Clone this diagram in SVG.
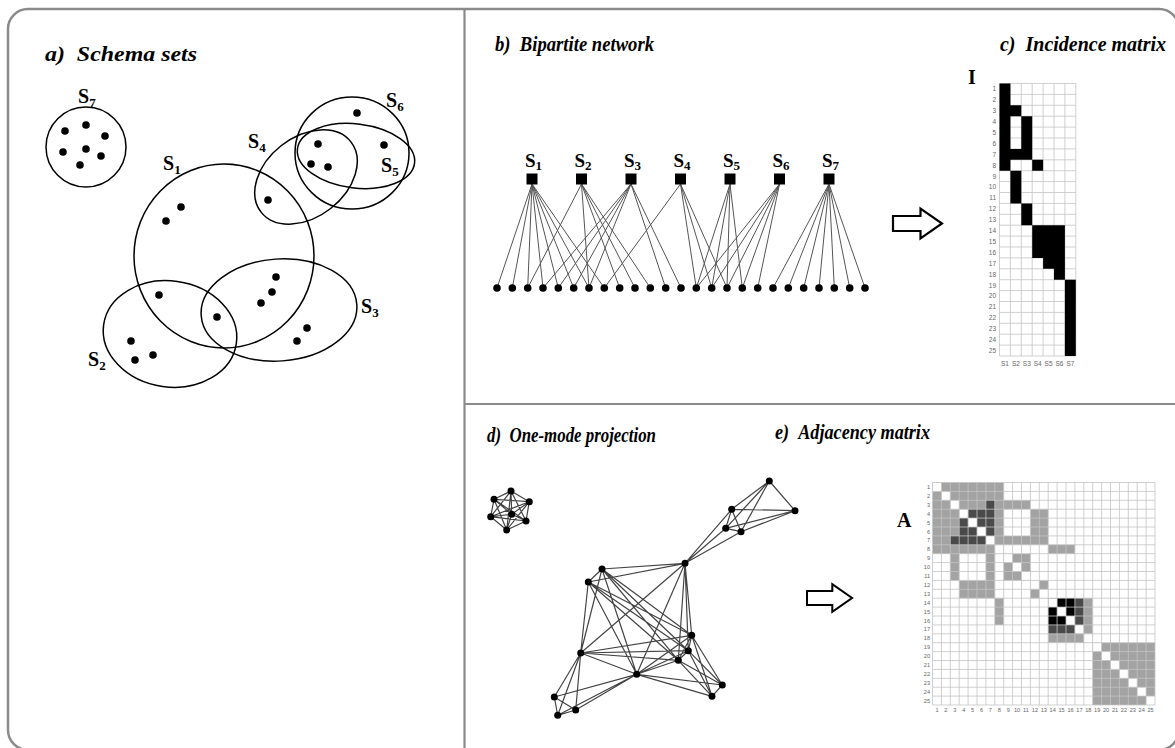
<svg xmlns="http://www.w3.org/2000/svg" width="1175" height="748" viewBox="0 0 1175 748">
<style>
.frame{fill:none;stroke:#8a8a8a;stroke-width:2.5}
.div{stroke:#8a8a8a;stroke-width:2.2}
.title{font-family:"Liberation Serif",serif;font-weight:bold;font-style:italic;font-size:21px;fill:#000}
.lab{font-family:"Liberation Serif",serif;font-weight:bold;font-size:20px;fill:#000}
.blab{font-family:"Liberation Serif",serif;font-weight:bold;font-size:19px;fill:#000}
.sub{font-size:13px}
.set{fill:none;stroke:#000;stroke-width:1.5}
.dot{fill:#000}
.bedge{fill:none;stroke:#555;stroke-width:1}
.pedge{fill:none;stroke:#444;stroke-width:1.2}
.grid{fill:none;stroke:#c4c4c4;stroke-width:0.8}
.ml{font-family:"Liberation Sans",Arial,sans-serif;font-size:6.5px;fill:#666}
.ml2{font-family:"Liberation Sans",Arial,sans-serif;font-size:5.6px;fill:#666}
.arrow{fill:#fff;stroke:#000;stroke-width:2.2;stroke-linejoin:miter}
</style>
<defs>
<path id="blockArrow" d="M0 -7.5H27.5V-15L49 0L27.5 15V7.5H0Z"/>
</defs>

<!-- panel frame and dividers -->
<g id="frame">
<rect class="frame" x="8" y="9" width="1171" height="741" rx="20" ry="20"/>
<line class="div" x1="464.5" y1="9" x2="464.5" y2="748"/>
<line class="div" x1="464.5" y1="404" x2="1178" y2="404"/>
</g>

<!-- titles -->
<g id="titles">
<text class="title" x="45" y="61" textLength="152" lengthAdjust="spacingAndGlyphs">a)&#160;&#160;Schema sets</text>
<text class="title" x="495" y="51" textLength="159" lengthAdjust="spacingAndGlyphs">b)&#160;&#160;Bipartite network</text>
<text class="title" x="1000" y="51" textLength="166" lengthAdjust="spacingAndGlyphs">c)&#160;&#160;Incidence matrix</text>
<text class="title" x="487" y="442" textLength="169" lengthAdjust="spacingAndGlyphs">d)&#160;&#160;One-mode projection</text>
<text class="title" x="775" y="439" textLength="155" lengthAdjust="spacingAndGlyphs">e)&#160;&#160;Adjacency matrix</text>
</g>

<!-- a) schema sets -->
<g id="set-S7">
<circle class="set" cx="86" cy="147" r="40"/>
<text class="lab" x="78" y="103">S<tspan class="sub" dy="4">7</tspan></text>
</g>
<g id="set-S1">
<ellipse class="set" cx="224" cy="256" rx="90" ry="92"/>
<text class="lab" x="163" y="170">S<tspan class="sub" dy="4">1</tspan></text>
</g>
<g id="set-S2">
<ellipse class="set" cx="170" cy="334" rx="67" ry="53" transform="rotate(8 170 334)"/>
<text class="lab" x="88" y="366">S<tspan class="sub" dy="4">2</tspan></text>
</g>
<g id="set-S3">
<ellipse class="set" cx="279" cy="310" rx="78" ry="51" transform="rotate(-4 279 310)"/>
<text class="lab" x="361" y="313">S<tspan class="sub" dy="4">3</tspan></text>
</g>
<g id="set-S4">
<ellipse class="set" cx="306" cy="177" rx="57" ry="40" transform="rotate(-38 306 177)"/>
<text class="lab" x="248" y="148">S<tspan class="sub" dy="4">4</tspan></text>
</g>
<g id="set-S5">
<ellipse class="set" cx="356" cy="156" rx="59" ry="32" transform="rotate(7 356 156)"/>
<text class="lab" x="381" y="172">S<tspan class="sub" dy="4">5</tspan></text>
</g>
<g id="set-S6">
<ellipse class="set" cx="352" cy="153" rx="57" ry="56"/>
<text class="lab" x="386" y="107">S<tspan class="sub" dy="4">6</tspan></text>
</g>
<g id="elements">
<circle class="dot" cx="65" cy="131" r="3.8"/>
<circle class="dot" cx="86" cy="125" r="3.8"/>
<circle class="dot" cx="105" cy="136" r="3.8"/>
<circle class="dot" cx="63" cy="152" r="3.8"/>
<circle class="dot" cx="86" cy="149" r="3.8"/>
<circle class="dot" cx="101" cy="156" r="3.8"/>
<circle class="dot" cx="80" cy="165" r="3.8"/>
<circle class="dot" cx="181" cy="207" r="3.8"/>
<circle class="dot" cx="166" cy="221" r="3.8"/>
<circle class="dot" cx="159" cy="295" r="3.8"/>
<circle class="dot" cx="217" cy="317" r="3.8"/>
<circle class="dot" cx="276" cy="277" r="3.8"/>
<circle class="dot" cx="272" cy="292" r="3.8"/>
<circle class="dot" cx="261" cy="303" r="3.8"/>
<circle class="dot" cx="307" cy="328" r="3.8"/>
<circle class="dot" cx="297" cy="341" r="3.8"/>
<circle class="dot" cx="131" cy="341" r="3.8"/>
<circle class="dot" cx="135" cy="360" r="3.8"/>
<circle class="dot" cx="153" cy="355" r="3.8"/>
<circle class="dot" cx="268" cy="200" r="3.8"/>
<circle class="dot" cx="357" cy="113" r="3.8"/>
<circle class="dot" cx="318" cy="144" r="3.8"/>
<circle class="dot" cx="384" cy="145" r="3.8"/>
<circle class="dot" cx="311" cy="164" r="3.8"/>
<circle class="dot" cx="328" cy="167" r="3.8"/>
</g>

<!-- b) bipartite network -->
<g id="bipartite-edges">
<path class="bedge" d="M532 184L497 288M532 184L512.3 288M532 184L527.7 288M532 184L543 288M532 184L558.3 288M532 184L573.7 288M532 184L589 288M532 184L604.3 288
M581.5 184L527.7 288M581.5 184L589 288M581.5 184L619.7 288M581.5 184L635 288M581.5 184L650.3 288
M631 184L543 288M631 184L558.3 288M631 184L573.7 288M631 184L589 288M631 184L665.7 288M631 184L681 288
M680.5 184L604.3 288M680.5 184L696.3 288M680.5 184L711.7 288M680.5 184L727 288
M730 184L696.3 288M730 184L711.7 288M730 184L727 288M730 184L742.3 288
M779.5 184L696.3 288M779.5 184L711.7 288M779.5 184L727 288M779.5 184L742.3 288M779.5 184L757.7 288
M829 184L773 288M829 184L788.3 288M829 184L803.7 288M829 184L819 288M829 184L834.3 288M829 184L849.7 288M829 184L865 288"/>
</g>
<g id="bipartite-sets">
<rect x="526.5" y="173.5" width="11" height="11"/>
<rect x="576" y="173.5" width="11" height="11"/>
<rect x="625.5" y="173.5" width="11" height="11"/>
<rect x="675" y="173.5" width="11" height="11"/>
<rect x="724.5" y="173.5" width="11" height="11"/>
<rect x="774" y="173.5" width="11" height="11"/>
<rect x="823.5" y="173.5" width="11" height="11"/>
<text class="blab" x="525" y="167">S<tspan class="sub" dy="3">1</tspan></text>
<text class="blab" x="574.5" y="167">S<tspan class="sub" dy="3">2</tspan></text>
<text class="blab" x="624" y="167">S<tspan class="sub" dy="3">3</tspan></text>
<text class="blab" x="673.5" y="167">S<tspan class="sub" dy="3">4</tspan></text>
<text class="blab" x="723" y="167">S<tspan class="sub" dy="3">5</tspan></text>
<text class="blab" x="772.5" y="167">S<tspan class="sub" dy="3">6</tspan></text>
<text class="blab" x="822" y="167">S<tspan class="sub" dy="3">7</tspan></text>
</g>
<g id="bipartite-elements">
<circle class="dot" cx="497" cy="288" r="3.8"/>
<circle class="dot" cx="512.3" cy="288" r="3.8"/>
<circle class="dot" cx="527.7" cy="288" r="3.8"/>
<circle class="dot" cx="543" cy="288" r="3.8"/>
<circle class="dot" cx="558.3" cy="288" r="3.8"/>
<circle class="dot" cx="573.7" cy="288" r="3.8"/>
<circle class="dot" cx="589" cy="288" r="3.8"/>
<circle class="dot" cx="604.3" cy="288" r="3.8"/>
<circle class="dot" cx="619.7" cy="288" r="3.8"/>
<circle class="dot" cx="635" cy="288" r="3.8"/>
<circle class="dot" cx="650.3" cy="288" r="3.8"/>
<circle class="dot" cx="665.7" cy="288" r="3.8"/>
<circle class="dot" cx="681" cy="288" r="3.8"/>
<circle class="dot" cx="696.3" cy="288" r="3.8"/>
<circle class="dot" cx="711.7" cy="288" r="3.8"/>
<circle class="dot" cx="727" cy="288" r="3.8"/>
<circle class="dot" cx="742.3" cy="288" r="3.8"/>
<circle class="dot" cx="757.7" cy="288" r="3.8"/>
<circle class="dot" cx="773" cy="288" r="3.8"/>
<circle class="dot" cx="788.3" cy="288" r="3.8"/>
<circle class="dot" cx="803.7" cy="288" r="3.8"/>
<circle class="dot" cx="819" cy="288" r="3.8"/>
<circle class="dot" cx="834.3" cy="288" r="3.8"/>
<circle class="dot" cx="849.7" cy="288" r="3.8"/>
<circle class="dot" cx="865" cy="288" r="3.8"/>
</g>

<!-- arrows -->
<g id="arrow-bc"><use href="#blockArrow" class="arrow" transform="translate(893 223.5)"/></g>
<g id="arrow-de"><use href="#blockArrow" class="arrow" transform="translate(807 598) scale(0.92)"/></g>

<!-- c) incidence matrix -->
<g id="incidence">
<text class="lab" x="968" y="84">I</text>
<g transform="translate(999.5 83.5) scale(10.9)">
<rect x="0" y="0" width="7" height="25" fill="#fff"/>
<path class="grid" vector-effect="non-scaling-stroke" d="M0 0H7M0 1H7M0 2H7M0 3H7M0 4H7M0 5H7M0 6H7M0 7H7M0 8H7M0 9H7M0 10H7M0 11H7M0 12H7M0 13H7M0 14H7M0 15H7M0 16H7M0 17H7M0 18H7M0 19H7M0 20H7M0 21H7M0 22H7M0 23H7M0 24H7M0 25H7M0 0V25M1 0V25M2 0V25M3 0V25M4 0V25M5 0V25M6 0V25M7 0V25"/>
<path fill="#000" d="M0 0h1v8h-1zM1 2h1v1h-1zM1 6h1v1h-1zM1 8h1v3h-1zM2 3h1v4h-1zM2 11h1v2h-1zM3 7h1v1h-1zM3 13h1v3h-1zM4 13h1v4h-1zM5 13h1v5h-1zM6 18h1v7h-1z"/>
</g>
<g text-anchor="end">
<text class="ml" x="996" y="91.3">1</text>
<text class="ml" x="996" y="102.2">2</text>
<text class="ml" x="996" y="113.1">3</text>
<text class="ml" x="996" y="124">4</text>
<text class="ml" x="996" y="134.9">5</text>
<text class="ml" x="996" y="145.8">6</text>
<text class="ml" x="996" y="156.7">7</text>
<text class="ml" x="996" y="167.6">8</text>
<text class="ml" x="996" y="178.5">9</text>
<text class="ml" x="996" y="189.4">10</text>
<text class="ml" x="996" y="200.3">11</text>
<text class="ml" x="996" y="211.2">12</text>
<text class="ml" x="996" y="222.1">13</text>
<text class="ml" x="996" y="233">14</text>
<text class="ml" x="996" y="243.9">15</text>
<text class="ml" x="996" y="254.8">16</text>
<text class="ml" x="996" y="265.7">17</text>
<text class="ml" x="996" y="276.6">18</text>
<text class="ml" x="996" y="287.5">19</text>
<text class="ml" x="996" y="298.4">20</text>
<text class="ml" x="996" y="309.3">21</text>
<text class="ml" x="996" y="320.2">22</text>
<text class="ml" x="996" y="331.1">23</text>
<text class="ml" x="996" y="342">24</text>
<text class="ml" x="996" y="352.9">25</text>
</g>
<g text-anchor="middle">
<text class="ml" x="1005" y="366">S1</text>
<text class="ml" x="1015.9" y="366">S2</text>
<text class="ml" x="1026.8" y="366">S3</text>
<text class="ml" x="1037.7" y="366">S4</text>
<text class="ml" x="1048.6" y="366">S5</text>
<text class="ml" x="1059.5" y="366">S6</text>
<text class="ml" x="1070.4" y="366">S7</text>
</g>
</g>

<!-- d) one-mode projection -->
<g id="projection-edges">
<path class="pedge" d="M511 491L494 499.3M511 491L529.3 501.7M511 491L511.7 514.3M511 491L490.7 516.7M511 491L526 521M511 491L506.7 530
M494 499.3L529.3 501.7M494 499.3L511.7 514.3M494 499.3L490.7 516.7M494 499.3L526 521M494 499.3L506.7 530
M529.3 501.7L511.7 514.3M529.3 501.7L490.7 516.7M529.3 501.7L526 521M529.3 501.7L506.7 530
M511.7 514.3L490.7 516.7M511.7 514.3L526 521M511.7 514.3L506.7 530
M490.7 516.7L526 521M490.7 516.7L506.7 530M526 521L506.7 530"/>
<path class="pedge" d="M602 569L588.3 582M602 569L580.7 653M602 569L691.7 635.3M602 569L688.3 650.7M602 569L678.3 660.3M602 569L636.7 674.3M602 569L685 563.3
M588.3 582L580.7 653M588.3 582L691.7 635.3M588.3 582L688.3 650.7M588.3 582L678.3 660.3M588.3 582L636.7 674.3M588.3 582L685 563.3
M580.7 653L691.7 635.3M580.7 653L688.3 650.7M580.7 653L678.3 660.3M580.7 653L636.7 674.3M580.7 653L685 563.3
M691.7 635.3L688.3 650.7M691.7 635.3L678.3 660.3M691.7 635.3L636.7 674.3M691.7 635.3L685 563.3
M688.3 650.7L678.3 660.3M688.3 650.7L636.7 674.3M688.3 650.7L685 563.3
M678.3 660.3L636.7 674.3M678.3 660.3L685 563.3M636.7 674.3L685 563.3
M580.7 653L554.3 697M580.7 653L575.7 710M580.7 653L557.7 715.3M636.7 674.3L554.3 697M636.7 674.3L575.7 710M636.7 674.3L557.7 715.3
M554.3 697L575.7 710M554.3 697L557.7 715.3M575.7 710L557.7 715.3
M691.7 635.3L722.3 685M691.7 635.3L712 696.3M688.3 650.7L722.3 685M688.3 650.7L712 696.3M678.3 660.3L722.3 685M678.3 660.3L712 696.3M636.7 674.3L722.3 685M636.7 674.3L712 696.3M722.3 685L712 696.3
M685 563.3L731.7 509.3M685 563.3L725.7 528.3M685 563.3L741 531.7M731.7 509.3L725.7 528.3M731.7 509.3L741 531.7M725.7 528.3L741 531.7
M731.7 509.3L769.3 481M725.7 528.3L769.3 481M741 531.7L769.3 481M731.7 509.3L795 510.7M725.7 528.3L795 510.7M741 531.7L795 510.7M769.3 481L795 510.7"/>
</g>
<g id="projection-nodes">
<circle class="dot" cx="511" cy="491" r="3.5"/>
<circle class="dot" cx="494" cy="499.3" r="3.5"/>
<circle class="dot" cx="529.3" cy="501.7" r="3.5"/>
<circle class="dot" cx="511.7" cy="514.3" r="3.5"/>
<circle class="dot" cx="490.7" cy="516.7" r="3.5"/>
<circle class="dot" cx="526" cy="521" r="3.5"/>
<circle class="dot" cx="506.7" cy="530" r="3.5"/>
<circle class="dot" cx="602" cy="569" r="3.5"/>
<circle class="dot" cx="588.3" cy="582" r="3.5"/>
<circle class="dot" cx="580.7" cy="653" r="3.5"/>
<circle class="dot" cx="691.7" cy="635.3" r="3.5"/>
<circle class="dot" cx="688.3" cy="650.7" r="3.5"/>
<circle class="dot" cx="678.3" cy="660.3" r="3.5"/>
<circle class="dot" cx="636.7" cy="674.3" r="3.5"/>
<circle class="dot" cx="685" cy="563.3" r="3.5"/>
<circle class="dot" cx="554.3" cy="697" r="3.5"/>
<circle class="dot" cx="575.7" cy="710" r="3.5"/>
<circle class="dot" cx="557.7" cy="715.3" r="3.5"/>
<circle class="dot" cx="722.3" cy="685" r="3.5"/>
<circle class="dot" cx="712" cy="696.3" r="3.5"/>
<circle class="dot" cx="731.7" cy="509.3" r="3.5"/>
<circle class="dot" cx="725.7" cy="528.3" r="3.5"/>
<circle class="dot" cx="741" cy="531.7" r="3.5"/>
<circle class="dot" cx="769.3" cy="481" r="3.5"/>
<circle class="dot" cx="795" cy="510.7" r="3.5"/>
</g>

<!-- e) adjacency matrix -->
<g id="adjacency">
<text class="lab" x="897" y="527">A</text>
<g transform="translate(932.5 482.5) scale(8.9)">
<rect x="0" y="0" width="25" height="25" fill="#fff"/>
<path fill="#a3a3a3" d="M0 0h8v8h-8zM8 2h3v1h-3zM8 6h3v1h-3zM2 8h1v3h-1zM6 8h1v3h-1zM8 8h3v3h-3zM11 3h2v4h-2zM3 11h4v2h-4zM11 11h2v2h-2zM13 7h3v1h-3zM7 13h1v3h-1zM13 13h5v5h-5zM18 18h7v7h-7z"/>
<path fill="#4a4a4a" d="M3 3h4v4h-4zM6 2h1v1h-1zM2 6h1v1h-1zM13 13h4v4h-4z"/>
<path fill="#000" d="M13 13h3v3h-3z"/>
<path fill="#fff" d="M0 0h1v1h-1zM1 1h1v1h-1zM2 2h1v1h-1zM3 3h1v1h-1zM4 4h1v1h-1zM5 5h1v1h-1zM6 6h1v1h-1zM7 7h1v1h-1zM8 8h1v1h-1zM9 9h1v1h-1zM10 10h1v1h-1zM11 11h1v1h-1zM12 12h1v1h-1zM13 13h1v1h-1zM14 14h1v1h-1zM15 15h1v1h-1zM16 16h1v1h-1zM17 17h1v1h-1zM18 18h1v1h-1zM19 19h1v1h-1zM20 20h1v1h-1zM21 21h1v1h-1zM22 22h1v1h-1zM23 23h1v1h-1zM24 24h1v1h-1z"/>
<path class="grid" vector-effect="non-scaling-stroke" d="M0 0H25M0 1H25M0 2H25M0 3H25M0 4H25M0 5H25M0 6H25M0 7H25M0 8H25M0 9H25M0 10H25M0 11H25M0 12H25M0 13H25M0 14H25M0 15H25M0 16H25M0 17H25M0 18H25M0 19H25M0 20H25M0 21H25M0 22H25M0 23H25M0 24H25M0 25H25M0 0V25M1 0V25M2 0V25M3 0V25M4 0V25M5 0V25M6 0V25M7 0V25M8 0V25M9 0V25M10 0V25M11 0V25M12 0V25M13 0V25M14 0V25M15 0V25M16 0V25M17 0V25M18 0V25M19 0V25M20 0V25M21 0V25M22 0V25M23 0V25M24 0V25M25 0V25"/>
</g>
<g text-anchor="end">
<text class="ml2" x="930" y="489">1</text>
<text class="ml2" x="930" y="497.9">2</text>
<text class="ml2" x="930" y="506.8">3</text>
<text class="ml2" x="930" y="515.7">4</text>
<text class="ml2" x="930" y="524.6">5</text>
<text class="ml2" x="930" y="533.5">6</text>
<text class="ml2" x="930" y="542.4">7</text>
<text class="ml2" x="930" y="551.3">8</text>
<text class="ml2" x="930" y="560.2">9</text>
<text class="ml2" x="930" y="569.1">10</text>
<text class="ml2" x="930" y="578">11</text>
<text class="ml2" x="930" y="586.9">12</text>
<text class="ml2" x="930" y="595.8">13</text>
<text class="ml2" x="930" y="604.7">14</text>
<text class="ml2" x="930" y="613.6">15</text>
<text class="ml2" x="930" y="622.5">16</text>
<text class="ml2" x="930" y="631.4">17</text>
<text class="ml2" x="930" y="640.3">18</text>
<text class="ml2" x="930" y="649.2">19</text>
<text class="ml2" x="930" y="658.1">20</text>
<text class="ml2" x="930" y="667">21</text>
<text class="ml2" x="930" y="675.9">22</text>
<text class="ml2" x="930" y="684.8">23</text>
<text class="ml2" x="930" y="693.7">24</text>
<text class="ml2" x="930" y="702.6">25</text>
</g>
<g text-anchor="middle">
<text class="ml2" x="937" y="712">1</text>
<text class="ml2" x="945.9" y="712">2</text>
<text class="ml2" x="954.8" y="712">3</text>
<text class="ml2" x="963.7" y="712">4</text>
<text class="ml2" x="972.6" y="712">5</text>
<text class="ml2" x="981.5" y="712">6</text>
<text class="ml2" x="990.4" y="712">7</text>
<text class="ml2" x="999.3" y="712">8</text>
<text class="ml2" x="1008.2" y="712">9</text>
<text class="ml2" x="1017.1" y="712">10</text>
<text class="ml2" x="1026" y="712">11</text>
<text class="ml2" x="1034.9" y="712">12</text>
<text class="ml2" x="1043.8" y="712">13</text>
<text class="ml2" x="1052.7" y="712">14</text>
<text class="ml2" x="1061.6" y="712">15</text>
<text class="ml2" x="1070.5" y="712">16</text>
<text class="ml2" x="1079.4" y="712">17</text>
<text class="ml2" x="1088.3" y="712">18</text>
<text class="ml2" x="1097.2" y="712">19</text>
<text class="ml2" x="1106.1" y="712">20</text>
<text class="ml2" x="1115" y="712">21</text>
<text class="ml2" x="1123.9" y="712">22</text>
<text class="ml2" x="1132.8" y="712">23</text>
<text class="ml2" x="1141.7" y="712">24</text>
<text class="ml2" x="1150.6" y="712">25</text>
</g>
</g>
</svg>
